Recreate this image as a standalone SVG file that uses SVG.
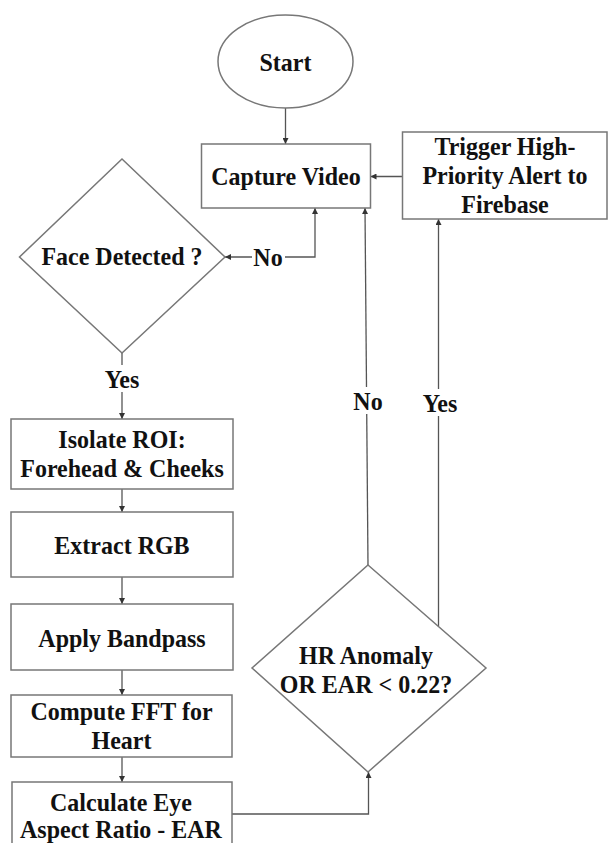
<svg xmlns="http://www.w3.org/2000/svg" width="609" height="843" viewBox="0 0 609 843">
<defs>
<marker id="ah" viewBox="0 0 10 10" refX="10" refY="5" markerWidth="6" markerHeight="6" markerUnits="userSpaceOnUse" orient="auto-start-reverse">
<path d="M0,0 L10,5 L0,10 z" fill="#333"/>
</marker>
</defs>
<style>
.n{fill:#fff;stroke:#777;stroke-width:1.5}
.t{font-family:"Liberation Serif","Times New Roman",serif;font-weight:bold;font-size:24px;fill:#111;text-anchor:middle;transform-box:fill-box;transform-origin:center;transform:scaleY(1.08)}
.c{fill:none;stroke:#555;stroke-width:1.3}
.lb{fill:#fff}
</style>
<rect width="609" height="843" fill="#fff"/>
<g id="connectors">
<line class="c" x1="285.5" y1="108" x2="285.5" y2="144" marker-end="url(#ah)"/>
<line class="c" x1="402.5" y1="176.5" x2="370.5" y2="176.5" marker-end="url(#ah)"/>
<polyline class="c" points="315,208 315,257 225,257" marker-start="url(#ah)" marker-end="url(#ah)"/>
<line class="c" x1="122" y1="353" x2="122" y2="419" marker-end="url(#ah)"/>
<line class="c" x1="122" y1="489" x2="122" y2="512" marker-end="url(#ah)"/>
<line class="c" x1="122" y1="577" x2="122" y2="604" marker-end="url(#ah)"/>
<line class="c" x1="122" y1="670" x2="122" y2="695" marker-end="url(#ah)"/>
<line class="c" x1="122" y1="757" x2="122" y2="782" marker-end="url(#ah)"/>
<polyline class="c" points="232,814 368.5,814 368.5,772" marker-end="url(#ah)"/>
<line class="c" x1="368" y1="565" x2="365" y2="208" marker-end="url(#ah)"/>
<line class="c" x1="438.5" y1="626" x2="438.5" y2="219" marker-end="url(#ah)"/>
<rect class="lb" x="252" y="244" width="33" height="26"/>
<text class="t" x="268" y="265">No</text>
<rect class="lb" x="102" y="365" width="40" height="27"/>
<text class="t" x="122" y="387">Yes</text>
<rect class="lb" x="351" y="387" width="34" height="27"/>
<text class="t" x="368" y="409">No</text>
<rect class="lb" x="420" y="389" width="40" height="27"/>
<text class="t" x="440" y="411">Yes</text>
</g>
<g id="start">
<ellipse class="n" cx="285.5" cy="61.5" rx="67.5" ry="46.5"/>
<text class="t" x="285.5" y="70">Start</text>
</g>
<g id="capture">
<rect class="n" x="201.5" y="144" width="169" height="64"/>
<text class="t" x="286" y="184">Capture Video</text>
</g>
<g id="trigger">
<rect class="n" x="402.5" y="132" width="204.5" height="87"/>
<text class="t" x="505" y="154">Trigger High-</text>
<text class="t" x="505" y="183">Priority Alert to</text>
<text class="t" x="505" y="212">Firebase</text>
</g>
<g id="face">
<polygon class="n" points="122,159 225,257 122,353 19.5,257"/>
<text class="t" x="122" y="264">Face Detected ?</text>
</g>
<g id="isolate">
<rect class="n" x="11" y="419" width="222" height="70"/>
<text class="t" x="122" y="447">Isolate ROI:</text>
<text class="t" x="122" y="476">Forehead &amp; Cheeks</text>
</g>
<g id="extract">
<rect class="n" x="11" y="512" width="222" height="65"/>
<text class="t" x="122" y="553">Extract RGB</text>
</g>
<g id="bandpass">
<rect class="n" x="11" y="604" width="222" height="66"/>
<text class="t" x="122" y="646">Apply Bandpass</text>
</g>
<g id="fft">
<rect class="n" x="11" y="695" width="221" height="62"/>
<text class="t" x="121.5" y="719">Compute FFT for</text>
<text class="t" x="121.5" y="748">Heart</text>
</g>
<g id="ear">
<rect class="n" x="12" y="782" width="220" height="70"/>
<text class="t" x="121" y="810">Calculate Eye</text>
<text class="t" x="121" y="837">Aspect Ratio - EAR</text>
</g>
<g id="decision">
<polygon class="n" points="368,565 486,668 368,772 252,668"/>
<text class="t" x="366" y="663">HR Anomaly</text>
<text class="t" x="366" y="692">OR EAR &lt; 0.22?</text>
</g>
</svg>
